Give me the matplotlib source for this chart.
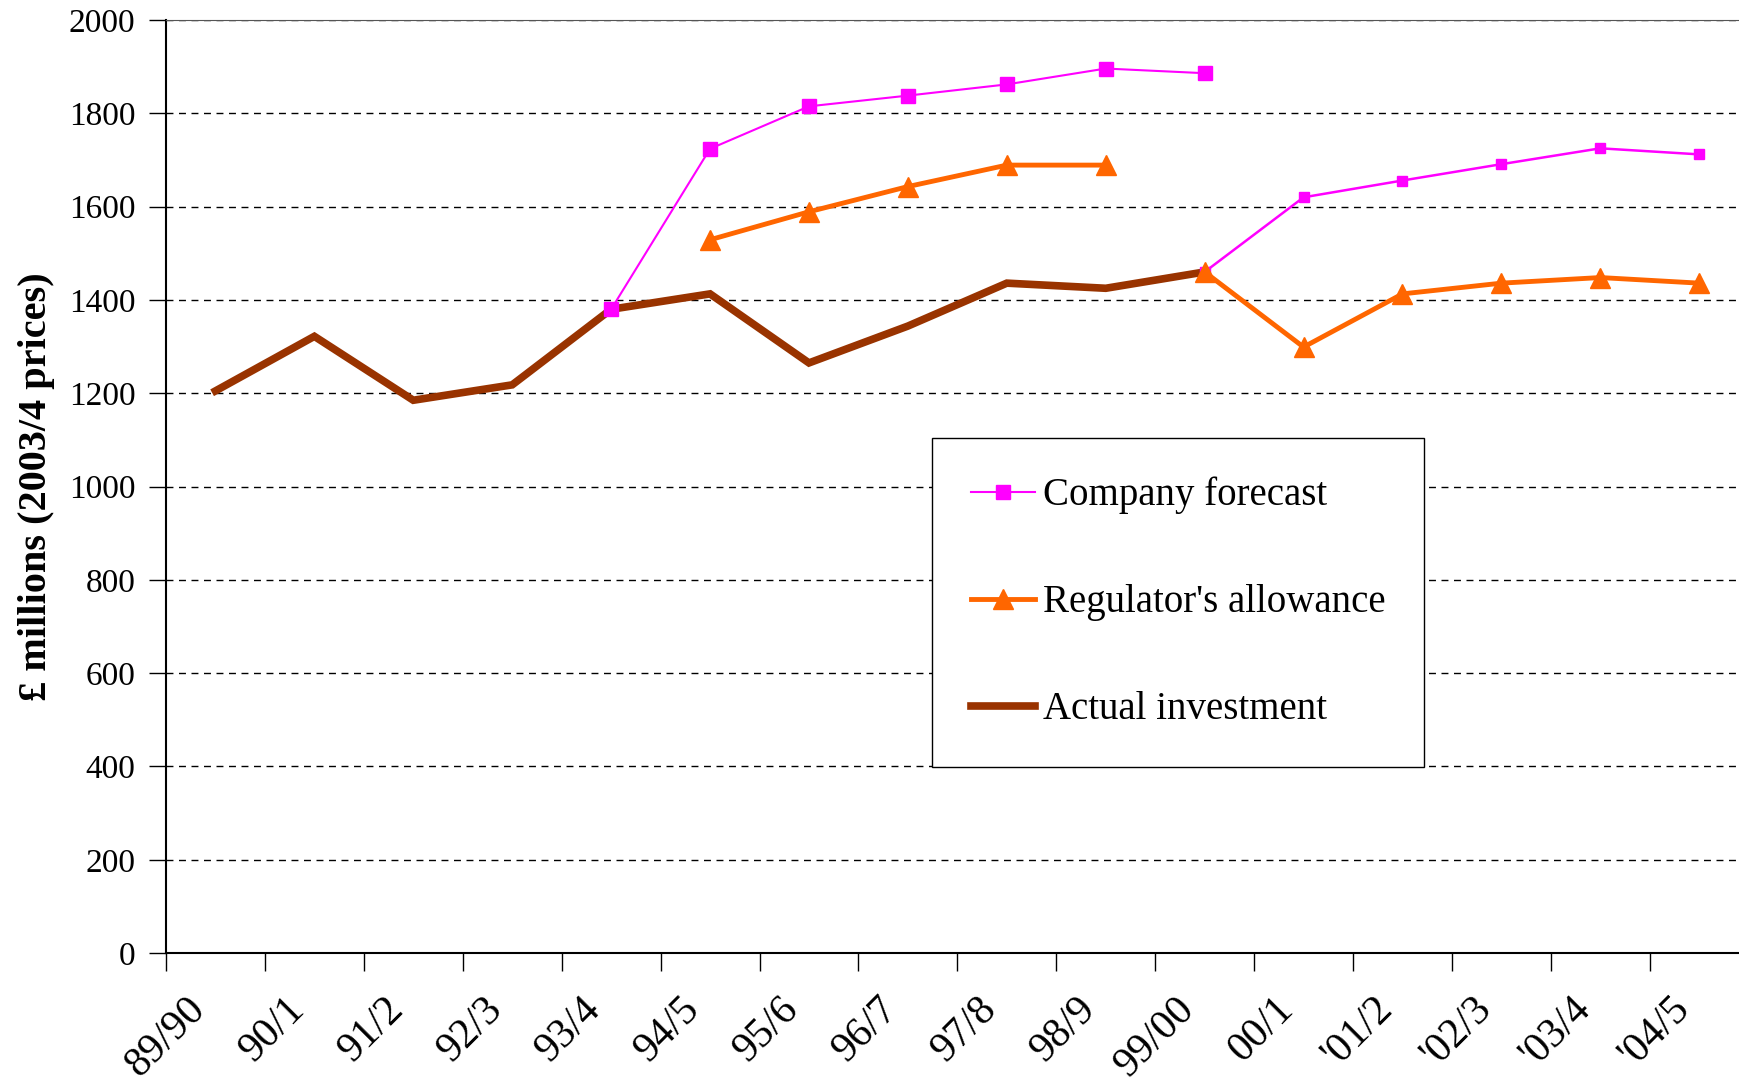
import numpy as np
from matplotlib import pyplot as plt
from matplotlib.transforms import ScaledTranslation

nan = np.nan

# financial years on the x axis
years = ['89/90', '90/1', '91/2', '92/3', '93/4', '94/5', '95/6', '96/7',
         '97/8', '98/9', '99/00', '00/1', "'01/2", "'02/3", "'03/4", "'04/5"]

# £ millions (2003/4 prices)
actual_investment = [1205, 1322, 1185, 1218, 1380, 1413, 1265, 1344,
                     1436, 1425, 1460, nan, nan, nan, nan, nan]
company_forecast_1 = [nan, nan, nan, nan, 1380, 1724, 1815, 1838,
                      1862, 1896, 1886, nan, nan, nan, nan, nan]
company_forecast_2 = [nan, nan, nan, nan, nan, nan, nan, nan,
                      nan, nan, 1460, 1620, 1656, 1691, 1725, 1712]
regulator_allowance_1 = [nan, nan, nan, nan, nan, 1529, 1589, 1643,
                         1689, 1689, nan, nan, nan, nan, nan, nan]
regulator_allowance_2 = [nan, nan, nan, nan, nan, nan, nan, nan,
                         nan, nan, 1460, 1299, 1413, 1436, 1448, 1436]

labels = ['Company forecast', "Regulator's allowance", 'Actual investment']

plt.rcParams['font.family'] = ['Liberation Serif', 'DejaVu Serif']

fig = plt.figure(figsize=(17.4, 10.88), dpi=100)
ax = fig.add_axes([0.0954, 0.124, 0.9096, 0.8576])

xs = np.arange(len(years))
magenta, orange, brown = '#FF00FF', '#FF6600', '#993300'

ax.plot(xs, actual_investment, color=brown, lw=5.5, solid_joinstyle='miter', zorder=3,
        label=labels[2])
ax.plot(xs, company_forecast_1, color=magenta, lw=1.5, marker='s', ms=10, zorder=4,
        label=labels[0])
ax.plot(xs, company_forecast_2, color=magenta, lw=1.8, marker='s', ms=6.5, zorder=4)
ax.plot(xs, regulator_allowance_1, color=orange, lw=3.5, marker='^', ms=14, zorder=5,
        label=labels[1])
ax.plot(xs, regulator_allowance_2, color=orange, lw=3.5, marker='^', ms=14, zorder=5)

ax.set_xlim(-0.5, len(years) - 0.5)
ax.set_ylim(0, 2000)
ax.set_yticks(np.arange(0, 2001, 200))
ax.yaxis.grid(True, color='black', ls=(0, (5, 4)), lw=1)
ax.tick_params(axis='y', labelsize=24, length=12, width=1, pad=10)

# ticks between categories, labels at the centres
ax.set_xticks(np.arange(-0.5, len(years), 1))
ax.set_xticklabels([])
ax.set_xticks(xs, minor=True)
ax.set_xticklabels(years, minor=True, rotation=45, ha='right', va='center',
                   rotation_mode='anchor', fontsize=30)
ax.tick_params(axis='x', which='major', length=13, width=1)
ax.tick_params(axis='x', which='minor', length=0, pad=36)
for lbl in ax.get_xticklabels(minor=True):
    lbl.set_transform(lbl.get_transform() + ScaledTranslation(-0.16, 0, fig.dpi_scale_trans))

ax.set_ylabel('£ millions (2003/4 prices)', fontsize=29, fontweight='bold', labelpad=10)

for side in ['left', 'bottom']:
    ax.spines[side].set_linewidth(1.5)
ax.spines['top'].set_color('#555555')
ax.spines['right'].set_visible(False)

handles, hl = ax.get_legend_handles_labels()
order = [hl.index(l) for l in labels]
leg = ax.legend([handles[i] for i in order], labels, loc='upper left',
                bbox_to_anchor=(0.484, 0.552), borderaxespad=0, fontsize=28,
                labelspacing=1.8, handlelength=1.65, handletextpad=0.2,
                borderpad=1.0, fancybox=False, framealpha=1)
leg.get_frame().set_edgecolor('black')
leg.get_frame().set_linewidth(1)

fig.savefig('out.png', dpi=100)
